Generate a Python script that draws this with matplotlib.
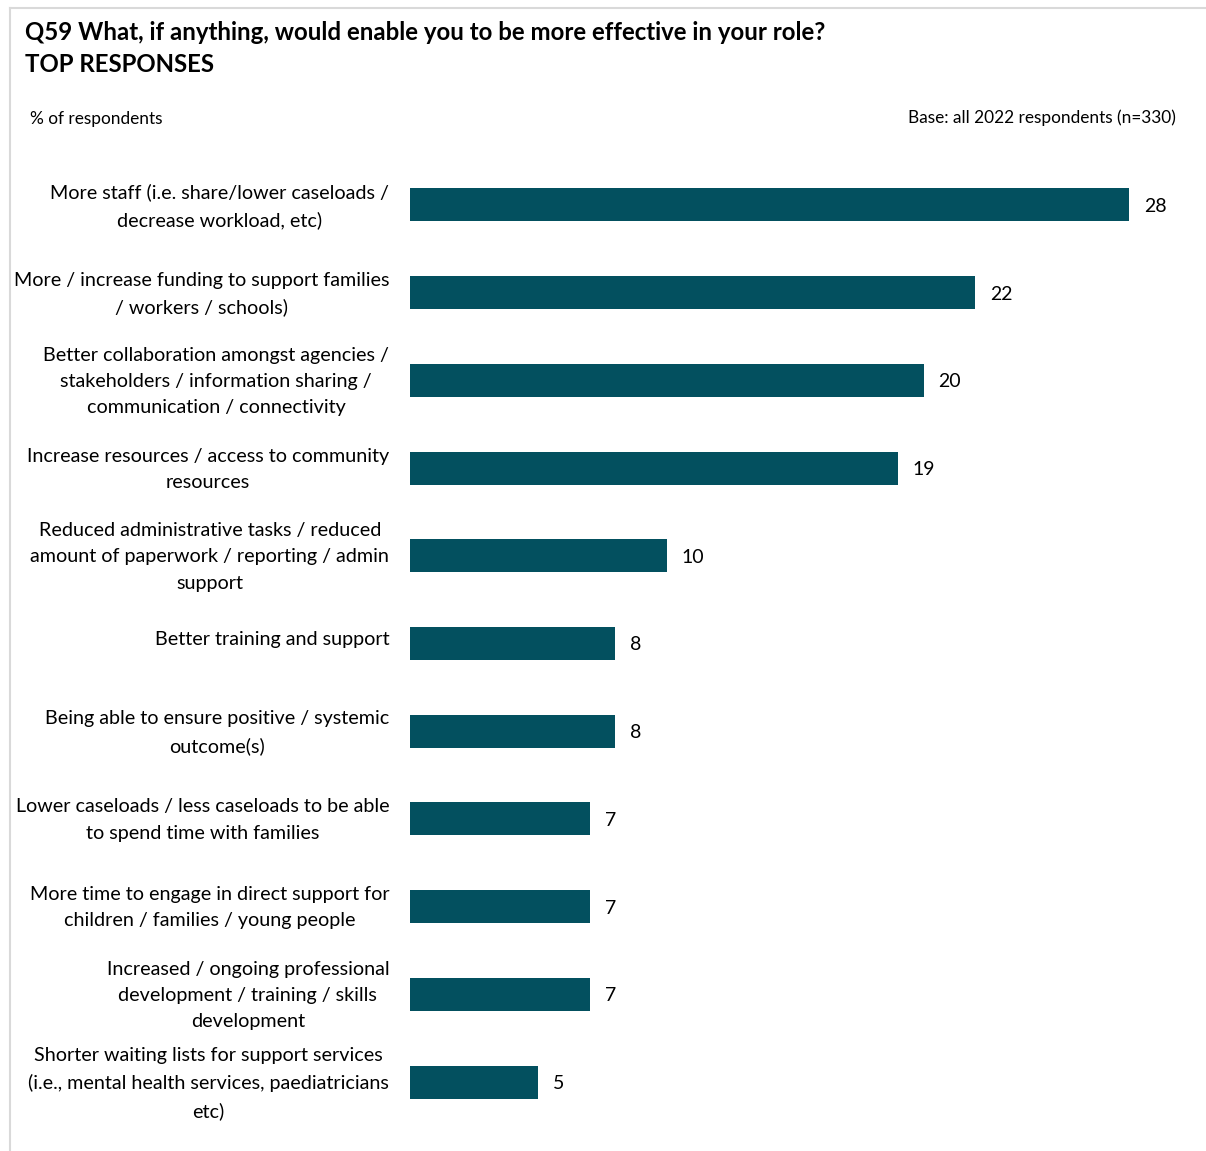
import matplotlib.pyplot as plt
import matplotlib.transforms as mtransforms
from matplotlib.lines import Line2D

plt.rcParams['font.family'] = ['Lato', 'DejaVu Sans']

labels = [
    "More staff (i.e. share/lower caseloads /\ndecrease workload, etc)",
    "More / increase funding to support families\n/ workers / schools)",
    "Better collaboration amongst agencies /\nstakeholders / information sharing /\ncommunication / connectivity",
    "Increase resources / access to community\nresources",
    "Reduced administrative tasks / reduced\namount of paperwork / reporting / admin\nsupport",
    "Better training and support",
    "Being able to ensure positive / systemic\noutcome(s)",
    "Lower caseloads / less caseloads to be able\nto spend time with families",
    "More time to engage in direct support for\nchildren / families / young people",
    "Increased / ongoing professional\ndevelopment / training / skills\ndevelopment",
    "Shorter waiting lists for support services\n(i.e., mental health services, paediatricians\netc)",
]
values = [28, 22, 20, 19, 10, 8, 8, 7, 7, 7, 5]

bar_color = '#03505F'
W, H = 1206, 1151
fig = plt.figure(figsize=(W / 100, H / 100), dpi=100)

# frame lines (top and left), as in the source slide
fig.add_artist(Line2D([10 / W, 1], [1 - 8 / H, 1 - 8 / H], color='#d9d9d9', lw=1.5))
fig.add_artist(Line2D([10 / W, 10 / W], [0, 1 - 8 / H], color='#d9d9d9', lw=1.5))

# axes: x=0 at 410px, 25.68 px per unit
left = 410 / W
xmax = 31
width = xmax * 25.68 / W
top_px, bot_px = 161, 1126
ax = fig.add_axes([left, 1 - bot_px / H, width, (bot_px - top_px) / H])

y = range(len(values))
ax.barh(y, values, height=0.376, color=bar_color)
ax.set_ylim(len(values) - 0.5, -0.5)
ax.set_xlim(0, xmax)
for i, v in enumerate(values):
    ax.text(v + 15 / 25.68, i, str(v), va='center_baseline', ha='left', fontsize=14, color='#000000')

ax.set_yticks(list(y))
ax.set_yticklabels(labels, fontsize=14.2, ha='right', multialignment='center', linespacing=1.66)
ax.tick_params(axis='y', length=0, pad=15)
ax.set_xticks([])
for s in ax.spines.values():
    s.set_visible(False)

# nudge category labels up a little
shift = mtransforms.ScaledTranslation(0, 5 / 100, fig.dpi_scale_trans)
for lab in ax.get_yticklabels():
    lab.set_transform(lab.get_transform() + shift)

fig.text(25 / W, 1 - 32 / H, "Q59 What, if anything, would enable you to be more effective in your role?",
         fontsize=17.3, fontweight='bold', va='center', ha='left')
fig.text(25 / W, 1 - 64 / H, "TOP RESPONSES", fontsize=17.3, fontweight='bold', va='center', ha='left')
fig.text(30 / W, 1 - 119 / H, "% of respondents", fontsize=12.4, va='center', ha='left')
fig.text(1176 / W, 1 - 118 / H, "Base: all 2022 respondents (n=330)", fontsize=12.4, va='center', ha='right')

fig.savefig('out.png', dpi=100)
